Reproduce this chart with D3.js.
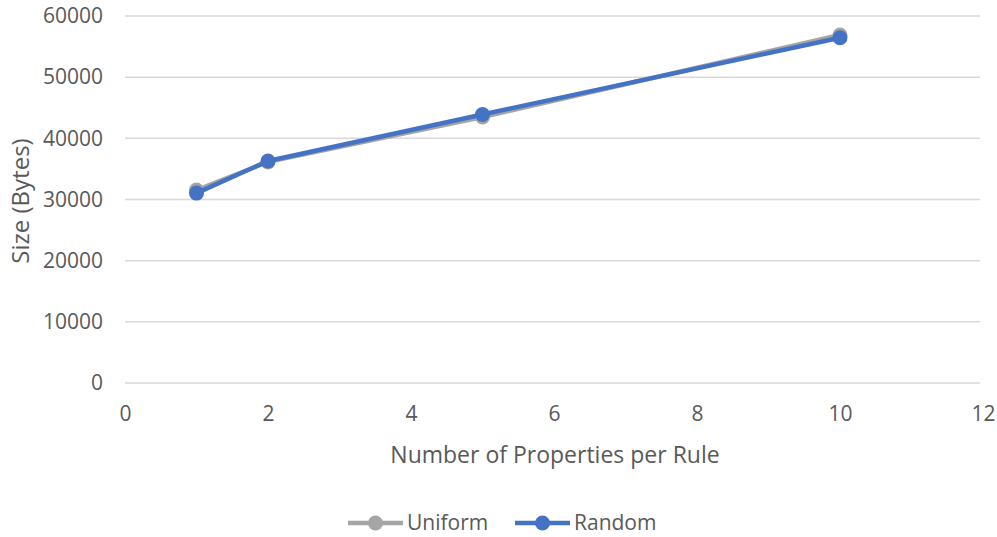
<!DOCTYPE html>
<html>
<head>
<meta charset="utf-8">
<script src="https://cdn.jsdelivr.net/npm/d3@7"></script>
<style>
  body { margin: 0; background: #fff; }
  text { font-family: "Open Sans", sans-serif; fill: #595959; }
</style>
</head>
<body>
<div id="wrapper"></div>
<script>
const properties = [1, 2, 5, 10];
const uniformSizes = [31550, 36150, 43500, 56900];
const randomSizes = [31050, 36300, 43900, 56450];
const xTicks = [0, 2, 4, 6, 8, 10, 12];
const yTicks = [0, 10000, 20000, 30000, 40000, 50000, 60000];

const series = [
  { name: "Uniform", values: uniformSizes, color: "#a5a5a5" },
  { name: "Random", values: randomSizes, color: "#4472c4" },
];

const dimensions = {
  width: 997,
  height: 537,
  margin: { top: 16, right: 14, bottom: 154, left: 125 },
};
dimensions.boundedWidth = dimensions.width - dimensions.margin.left - dimensions.margin.right;
dimensions.boundedHeight = dimensions.height - dimensions.margin.top - dimensions.margin.bottom;

const wrapper = d3.select("#wrapper").append("svg")
  .attr("width", dimensions.width)
  .attr("height", dimensions.height);

const bounds = wrapper.append("g")
  .attr("transform", `translate(${dimensions.margin.left},${dimensions.margin.top})`);

const xScale = d3.scaleLinear().domain([0, 12]).range([0, 858]);
const yScale = d3.scaleLinear().domain([0, 60000]).range([dimensions.boundedHeight, 0]);

// gridlines
bounds.append("g")
  .selectAll("line")
  .data(yTicks)
  .join("line")
  .attr("x1", 0)
  .attr("x2", 855)
  .attr("y1", (d) => yScale(d))
  .attr("y2", (d) => yScale(d))
  .attr("stroke", "#d9d9d9")
  .attr("stroke-width", 1.5);

const yAxis = bounds.append("g")
  .call(d3.axisLeft(yScale).tickValues(yTicks).tickSize(0).tickPadding(22).tickFormat(d3.format("d")));
yAxis.select(".domain").remove();
yAxis.selectAll("text").style("font-size", "21px").attr("fill", "#595959");

const xAxis = bounds.append("g")
  .attr("transform", `translate(0,${dimensions.boundedHeight})`)
  .call(d3.axisBottom(xScale).tickValues(xTicks).tickSize(0).tickPadding(23));
xAxis.select(".domain").remove();
xAxis.selectAll("text").style("font-size", "21px").attr("fill", "#595959");

const lineGenerator = d3.line()
  .x((d, i) => xScale(properties[i]))
  .y((d) => yScale(d));

series.forEach((s) => {
  bounds.append("path")
    .attr("d", lineGenerator(s.values))
    .attr("fill", "none")
    .attr("stroke", s.color)
    .attr("stroke-width", 4.5)
    .attr("stroke-linejoin", "round")
    .attr("stroke-linecap", "round");
  bounds.append("g")
    .selectAll("circle")
    .data(s.values)
    .join("circle")
    .attr("cx", (d, i) => xScale(properties[i]))
    .attr("cy", (d) => yScale(d))
    .attr("r", 7.5)
    .attr("fill", s.color);
});

bounds.append("text")
  .attr("x", 430)
  .attr("y", dimensions.boundedHeight + 80)
  .style("font-size", "23px")
  .style("text-anchor", "middle")
  .text("Number of Properties per Rule");

wrapper.append("text")
  .attr("transform", "translate(29,201) rotate(-90)")
  .style("font-size", "24px")
  .style("text-anchor", "middle")
  .text("Size (Bytes)");

// legend
const legendItems = [
  { x: 348, s: series[0] },
  { x: 515, s: series[1] },
];
const legend = wrapper.append("g").attr("transform", "translate(0,523)");
legendItems.forEach(({ x, s }) => {
  legend.append("line")
    .attr("x1", x).attr("x2", x + 55)
    .attr("stroke", s.color).attr("stroke-width", 4.5);
  legend.append("circle")
    .attr("cx", x + 27.5).attr("r", 7.5).attr("fill", s.color);
  legend.append("text")
    .attr("x", x + 59)
    .attr("dy", "0.35em")
    .style("font-size", "21px")
    .text(s.name);
});
</script>
</body>
</html>
